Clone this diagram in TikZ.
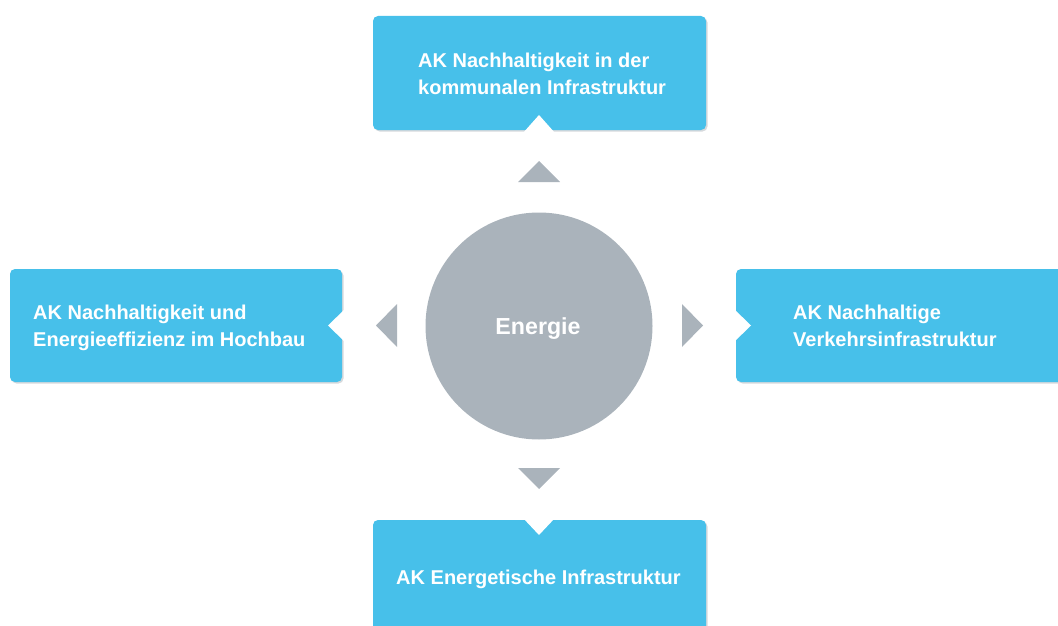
\documentclass[tikz,border=0pt]{standalone}
\usepackage{fontspec}
\setmainfont{Liberation Sans}
\definecolor{boxblue}{HTML}{47C0EA}
\definecolor{hubgray}{HTML}{AAB3BB}
\definecolor{shadowgray}{HTML}{D6D9DC}
\begin{document}
\begin{tikzpicture}[x=1pt,y=-1pt,
  akbox/.style={fill=boxblue, rounded corners=5},
  akshadow/.style={fill=shadowgray, rounded corners=5},
  notch/.style={fill=white},
  pointer/.style={fill=hubgray},
  aktext/.style={inner sep=0pt, text=white, font=\fontsize{20}{27.8}\selectfont\bfseries, align=left},
  hubtext/.style={inner sep=0pt, text=white, font=\fontsize{23.2}{28}\selectfont\bfseries}
]
\useasboundingbox (0,0) rectangle (1058,626);
\clip (0,0) rectangle (1058,626);

% shadows
\fill[akshadow] (374.5,17.5) rectangle (707.5,131.5);
\fill[akshadow] (11.5,270.5) rectangle (343.5,383.5);
\fill[akshadow] (737.5,270.5) rectangle (1080,383.5);
\fill[akshadow] (374.5,521.5) rectangle (707.5,660);

% boxes
\fill[akbox] (373,16) rectangle (706,130);
\fill[akbox] (10,269) rectangle (342,382);
\fill[akbox] (736,269) rectangle (1080,382);
\fill[akbox] (373,520) rectangle (706,660);

% notches
\fill[notch] (523,133) -- (539,115) -- (555,133) -- cycle;
\fill[notch] (345,309) -- (328,325.5) -- (345,342) -- cycle;
\fill[notch] (734,309) -- (751,325.5) -- (734,342) -- cycle;
\fill[notch] (523,518) -- (539,535) -- (555,518) -- cycle;

% pointer triangles
\fill[pointer] (518,182) -- (539,161) -- (560,182) -- cycle;
\fill[pointer] (518,468) -- (539,489) -- (560,468) -- cycle;
\fill[pointer] (397,304) -- (376,325.5) -- (397,347) -- cycle;
\fill[pointer] (682,304) -- (703,325.5) -- (682,347) -- cycle;

% hub
\fill[hubgray] (539,326) circle[radius=113.5];
\node[hubtext, anchor=base] (hub) at (538,334.5) {Energie};

% texts
\node[aktext, anchor=north west] (top) at (418,52.5) {AK Nachhaltigkeit in der\\kommunalen Infrastruktur};
\node[aktext, anchor=north west] (left) at (33,304.5) {AK Nachhaltigkeit und\\Energieeffizienz im Hochbau};
\node[aktext, anchor=north west] (right) at (793,304.5) {AK Nachhaltige\\Verkehrsinfrastruktur};
\node[aktext, anchor=base] (bottom) at (538.5,584) {AK Energetische Infrastruktur};
\end{tikzpicture}
\end{document}
